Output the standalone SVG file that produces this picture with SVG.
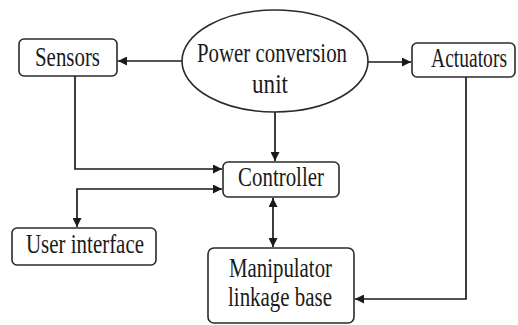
<svg xmlns="http://www.w3.org/2000/svg" width="518" height="325" viewBox="0 0 518 325">
<style>
.box{fill:#fff;stroke:#2a2a2a;stroke-width:1.6}
.lbl{font-family:"Liberation Serif","Times New Roman",serif;font-size:27px;fill:#1a1a1a;text-anchor:middle}
.con{fill:none;stroke:#1a1a1a;stroke-width:1.7}
</style>
<defs>
<marker id="ah" viewBox="0 0 10 10" refX="10" refY="5" markerWidth="11" markerHeight="9" markerUnits="userSpaceOnUse" orient="auto-start-reverse">
<path d="M0,0 L10,5 L0,10 z" fill="#1a1a1a"/>
</marker>
</defs>
<rect width="518" height="325" fill="#fff"/>
<g id="connectors">
<line class="con" x1="182" y1="61" x2="118" y2="61" marker-end="url(#ah)"/>
<line class="con" x1="368" y1="62" x2="411" y2="62" marker-end="url(#ah)"/>
<line class="con" x1="275" y1="112" x2="275" y2="161" marker-end="url(#ah)"/>
<path class="con" d="M75,76 V169 H222" marker-end="url(#ah)"/>
<path class="con" d="M222,189 H77 V227" marker-start="url(#ah)" marker-end="url(#ah)"/>
<line class="con" x1="273" y1="198" x2="273" y2="247" marker-start="url(#ah)" marker-end="url(#ah)"/>
<path class="con" d="M466,77 V299 H355" marker-end="url(#ah)"/>
</g>
<g id="power">
<ellipse class="box" cx="275" cy="61" rx="93" ry="51"/>
<text class="lbl" x="272" y="62" textLength="150" lengthAdjust="spacingAndGlyphs">Power conversion</text>
<text class="lbl" x="270" y="93" textLength="36" lengthAdjust="spacingAndGlyphs">unit</text>
</g>
<g id="sensors">
<rect class="box" x="19" y="39" width="98" height="37" rx="5"/>
<text class="lbl" x="67.5" y="66" textLength="65" lengthAdjust="spacingAndGlyphs">Sensors</text>
</g>
<g id="actuators">
<rect class="box" x="412" y="43" width="103" height="34" rx="5"/>
<text class="lbl" transform="translate(469,67) scale(0.724,1)" x="0" y="0">Actuators</text>
</g>
<g id="controller">
<rect class="box" x="223" y="162" width="116" height="35" rx="5"/>
<text class="lbl" x="281" y="186" textLength="86" lengthAdjust="spacingAndGlyphs">Controller</text>
</g>
<g id="user-interface">
<rect class="box" x="12" y="228" width="144" height="37" rx="5"/>
<text class="lbl" x="85" y="253" textLength="118" lengthAdjust="spacingAndGlyphs">User interface</text>
</g>
<g id="manipulator">
<rect class="box" x="208" y="248" width="146" height="75" rx="6"/>
<text class="lbl" x="280.5" y="277" textLength="103" lengthAdjust="spacingAndGlyphs">Manipulator</text>
<text class="lbl" x="280" y="306" textLength="104" lengthAdjust="spacingAndGlyphs">linkage base</text>
</g>
</svg>
